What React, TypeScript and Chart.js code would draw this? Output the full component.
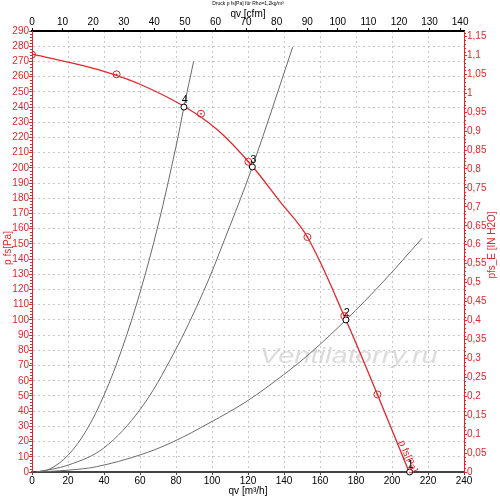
import React, { useEffect, useRef } from 'react';
import { Chart, registerables } from 'chart.js';

Chart.register(...registerables);

const FONT = "'Liberation Sans', Arial, sans-serif";
const RED = '#e3262b';
const GREY = '#6a6a6a';

// Fan curve p fs [Pa] vs qv [m3/h]
const fanQ = [0, 20, 40, 60, 84.4, 103, 121, 137, 153, 174.4, 191.9, 209.5];
const fanP = [274.8, 269.6, 263.5, 255, 240.5, 225, 203, 179, 154.5, 100, 51, 0];

// Red measurement markers on the fan curve
const markQ = [0, 47, 93.9, 120.2, 153, 173.5, 191.9];
const markP = [274.5, 261.5, 235.6, 204, 154.5, 102.6, 51];

// System curves
const sys4Q = [2.6, 10, 20, 30, 40, 50, 60, 70, 80, 84.4, 89.8];
const sys4P = [0, 2, 11, 27, 50.5, 81, 118, 162, 214, 240, 270];
const sys3Q = [2.6, 20, 39.6, 60, 78.5, 95.2, 106.7, 122.4, 144.8];
const sys3P = [0, 4.5, 15.5, 41, 77.5, 118.5, 152, 200.6, 279.3];
const sys2Q = [2.6, 20, 35.9, 60, 78.5, 98.9, 119.3, 139.6, 154.4, 174.4, 195, 216.7];
const sys2P = [0, 1.2, 3.5, 11.2, 19.9, 32.5, 46.5, 63.8, 78, 100, 125, 153.7];

// Operating points
const opQ = [209.8, 174.4, 122.4, 84.4];
const opP = [0, 100, 200.6, 240];
const opLabels = ['1', '2', '3', '4'];

// Axes
const qMax = 240; // m3/h
const qStep = 20;
const pMax = 290; // Pa
const pStep = 10;
const cfmPerM3h = 1 / 1.699;
const cfmStep = 10;
const paPerInH2O = 249.089;
const inStep = 0.05;

const titleText = 'Druck p fs[Pa] für Rho=1,2kg/m³';
const topTitle = 'qv [cfm]';
const bottomTitle = 'qv [m³/h]';
const leftTitle = 'p fs[Pa]';
const rightTitle = 'pfs_E [IN H2O]';
const curveLabel = 'p fs[Pa]';
const watermark = 'Ventilatorry.ru';

const pts = (xs: number[], ys: number[]) => xs.map((x, i) => ({ x, y: ys[i] }));

export default function App() {
  const ref = useRef<HTMLCanvasElement | null>(null);

  useEffect(() => {
    if (!ref.current) return;

    const overlay = {
      id: 'overlay',
      beforeDatasetsDraw(chart: any) {
        const { ctx, scales } = chart;
        const x = scales.x, y = scales.y;
        ctx.save();
        ctx.font = `italic 22px ${FONT}`;
        const w = ctx.measureText(watermark).width;
        const cx = x.getPixelForValue(176);
        const cy = y.getPixelForValue(76);
        ctx.translate(cx, cy);
        ctx.scale(178 / w, 1);
        ctx.textAlign = 'center';
        ctx.textBaseline = 'middle';
        ctx.fillStyle = 'rgba(205,205,205,0.7)';
        ctx.fillText(watermark, 0, 0);
        ctx.restore();
      },
      afterDraw(chart: any) {
        const { ctx, chartArea, scales } = chart;
        const x = scales.x, y = scales.y, y2 = scales.y2;
        const cx = (chartArea.left + chartArea.right) / 2;
        ctx.save();
        // minor ticks
        ctx.strokeStyle = RED;
        ctx.lineWidth = 1;
        ctx.beginPath();
        for (let v = 0; v <= pMax; v += 2) {
          if (v % 10 === 0) continue;
          const py = Math.round(y.getPixelForValue(v)) + 0.5;
          ctx.moveTo(chartArea.left - 2, py);
          ctx.lineTo(chartArea.left, py);
        }
        for (let k = 1; k <= 116; k++) {
          if (k % 5 === 0) continue;
          const py = Math.round(y2.getPixelForValue(k / 100)) + 0.5;
          ctx.moveTo(chartArea.right, py);
          ctx.lineTo(chartArea.right + 2, py);
        }
        ctx.stroke();

        // titles
        ctx.fillStyle = '#000';
        ctx.textAlign = 'center';
        ctx.textBaseline = 'middle';
        ctx.font = `5px ${FONT}`;
        ctx.fillText(titleText, cx, 4);
        ctx.font = `10px ${FONT}`;
        ctx.fillText(topTitle, cx, 14);
        ctx.fillText(bottomTitle, cx, 491);

        ctx.fillStyle = RED;
        ctx.save();
        ctx.translate(8, 248);
        ctx.rotate(-Math.PI / 2);
        ctx.fillText(leftTitle, 0, 0);
        ctx.restore();
        ctx.save();
        ctx.translate(492, 245);
        ctx.rotate(-Math.PI / 2);
        ctx.fillText(rightTitle, 0, 0);
        ctx.restore();

        // curve label along the fan line
        ctx.save();
        ctx.translate(x.getPixelForValue(205), y.getPixelForValue(20.4));
        ctx.rotate((67 * Math.PI) / 180);
        ctx.textAlign = 'left';
        ctx.font = `10px ${FONT}`;
        ctx.fillText(curveLabel, 0, 0);
        ctx.restore();

        // op point labels
        ctx.fillStyle = '#000';
        ctx.font = `11px ${FONT}`;
        ctx.textAlign = 'center';
        opQ.forEach((q, i) => {
          const px = x.getPixelForValue(q);
          const py = y.getPixelForValue(opP[i]);
          ctx.fillText(opLabels[i], px + 1, py - 7);
        });
        ctx.restore();
      },
    };

    const lineDs = (data: any[], color: string, width: number, order: number) => ({
      data,
      showLine: true,
      borderColor: color,
      backgroundColor: color,
      borderWidth: width,
      pointRadius: 0,
      pointHoverRadius: 0,
      tension: 0.35,
      order,
    });

    const gridColor = (max: number) => (c: any) =>
      c.tick && (c.tick.value === 0 || c.tick.value === max) ? 'rgba(0,0,0,0)' : '#c8c8c8';

    const chart = new Chart(ref.current, {
      type: 'scatter',
      data: {
        datasets: [
          lineDs(pts(sys4Q, sys4P), GREY, 1, 5),
          lineDs(pts(sys3Q, sys3P), GREY, 1, 5),
          lineDs(pts(sys2Q, sys2P), GREY, 1, 5),
          lineDs(pts(fanQ, fanP), RED, 1.3, 4),
          {
            data: pts(markQ, markP),
            pointStyle: 'circle',
            pointRadius: 3.5,
            borderColor: RED,
            backgroundColor: 'rgba(255,255,255,0)',
            borderWidth: 1,
            order: 3,
          },
          {
            data: pts(markQ, markP),
            pointStyle: 'circle',
            pointRadius: 0.9,
            borderColor: RED,
            backgroundColor: RED,
            borderWidth: 0,
            order: 2,
          },
          {
            data: pts(opQ, opP),
            pointStyle: 'circle',
            pointRadius: 3,
            borderColor: '#000',
            backgroundColor: '#fff',
            borderWidth: 1,
            order: 1,
            clip: false,
          },
        ] as any,
      },
      options: {
        responsive: false,
        animation: false,
        events: [],
        layout: { padding: 0 },
        plugins: { legend: { display: false }, tooltip: { enabled: false }, title: { display: false } },
        scales: {
          x: {
            type: 'linear',
            position: 'bottom',
            min: 0,
            max: qMax,
            ticks: { stepSize: qStep, color: '#000', font: { size: 10, family: FONT }, padding: 0, maxRotation: 0, autoSkip: false },
            grid: { color: gridColor(qMax), tickColor: '#444', tickLength: 3, tickBorderDash: [] },
            border: { color: '#444', width: 2, dash: [2, 3] },
            afterFit: (s: any) => { s.height = 32; },
          },
          x2: {
            type: 'linear',
            position: 'top',
            min: 0,
            max: qMax * cfmPerM3h,
            ticks: { stepSize: cfmStep, includeBounds: false, color: '#000', font: { size: 10, family: FONT }, padding: 0, maxRotation: 0, autoSkip: false },
            grid: { drawOnChartArea: false, tickColor: '#000', tickLength: 3 },
            border: { color: '#000', width: 2 },
            afterFit: (s: any) => { s.height = 31; },
          },
          y: {
            type: 'linear',
            position: 'left',
            min: 0,
            max: pMax,
            ticks: { stepSize: pStep, color: RED, font: { size: 10, family: FONT }, padding: 0, autoSkip: false },
            grid: { color: gridColor(pMax), tickColor: RED, tickLength: 3, tickBorderDash: [] },
            border: { color: RED, width: 1, dash: [2, 3] },
            afterFit: (s: any) => { s.width = 32; },
          },
          y2: {
            type: 'linear',
            position: 'right',
            min: 0,
            max: pMax / paPerInH2O,
            ticks: {
              stepSize: inStep,
              includeBounds: false,
              color: RED,
              font: { size: 10, family: FONT },
              padding: 0,
              autoSkip: false,
              callback: (v: any) => (Math.round(Number(v) * 100) / 100).toString().replace('.', ','),
            },
            grid: { drawOnChartArea: false, tickColor: RED, tickLength: 3 },
            border: { color: RED, width: 1 },
            afterFit: (s: any) => { s.width = 36; },
          },
        },
      } as any,
      plugins: [overlay],
    });

    return () => chart.destroy();
  }, []);

  return (
    <div style={{ position: 'fixed', left: 0, top: 0, width: 500, height: 504, background: '#fff' }}>
      <canvas ref={ref} width={500} height={504} style={{ width: 500, height: 504, display: 'block' }} />
    </div>
  );
}
